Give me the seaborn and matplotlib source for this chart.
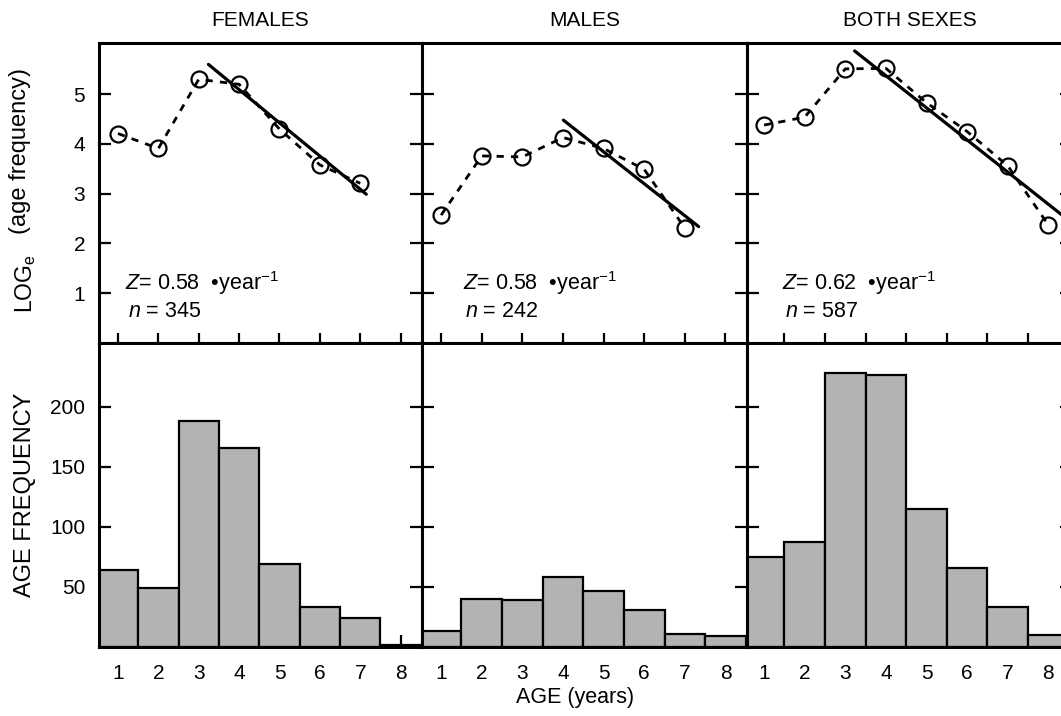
import matplotlib
matplotlib.use("Agg")
import matplotlib.pyplot as plt
import seaborn as sns

# ages (years) shared by all panels
ages = [1, 2, 3, 4, 5, 6, 7, 8]
panel_titles = ["FEMALES", "MALES", "BOTH SEXES"]

# age frequency histograms (bottom row)
female_counts = [64, 49, 188, 166, 69, 33, 24, 2]
male_counts = [13, 40, 39, 58, 47, 31, 11, 9]
both_counts = [75, 87, 228, 226, 115, 66, 33, 10]

# log_e(age frequency) points (top row)
female_log_ages = [1, 2, 3, 4, 5, 6, 7]
female_log = [4.21, 3.91, 5.30, 5.20, 4.30, 3.58, 3.21]
male_log_ages = [1, 2, 3, 4, 5, 6, 7]
male_log = [2.57, 3.76, 3.74, 4.13, 3.91, 3.49, 2.31]
both_log_ages = [1, 2, 3, 4, 5, 6, 7, 8]
both_log = [4.38, 4.54, 5.51, 5.52, 4.83, 4.25, 3.56, 2.37]

# catch-curve regression lines (end points)
female_fit_x = [3.24, 7.15]
female_fit_y = [5.60, 2.99]
male_fit_x = [4.01, 7.34]
male_fit_y = [4.48, 2.34]
both_fit_x = [3.23, 8.60]
both_fit_y = [5.87, 2.40]

# mortality estimate and sample size
z_values = [0.58, 0.58, 0.62]
n_values = [345, 242, 587]

W, H = 1061, 716


def px_axes(fig, left, top, width, height):
    # axes placed from pixel coordinates measured from the top-left corner
    return fig.add_axes([left / W, (H - top - height) / H, width / W, height / H])


def style_axes(ax, show_x_labels, show_y_labels):
    for sp in ax.spines.values():
        sp.set_visible(True)
        sp.set_linewidth(2.2)
        sp.set_color("black")
    ax.tick_params(axis="both", direction="in", width=1.6, colors="black",
                   labelcolor="black", labelsize=15, length=8.5)
    ax.tick_params(axis="y", left=True, right=True, pad=10,
                   labelleft=show_y_labels, labelright=False)
    ax.tick_params(axis="x", bottom=True, top=False, pad=12,
                   labelbottom=show_x_labels, labeltop=False, length=7.5)
    ax.set_xlabel("")
    ax.set_ylabel("")
    ax.set_facecolor("white")
    ax.grid(False)


def main():
    sns.set_theme(style="ticks")
    plt.rcParams.update({
        "font.family": ["Liberation Sans", "DejaVu Sans"],
        "mathtext.fontset": "custom",
        "mathtext.rm": "Liberation Sans",
        "mathtext.it": "Liberation Sans:italic",
        "mathtext.bf": "Liberation Sans:bold",
        "text.color": "black",
        "axes.labelcolor": "black",
        "axes.titlecolor": "black",
        "xtick.color": "black",
        "ytick.color": "black",
    })

    fig = plt.figure(figsize=(W / 100, H / 100), dpi=100)
    fig.patch.set_facecolor("white")

    lefts = [99, 422, 747]
    widths = [323, 325, 325]
    xlims = [(0.53, 8.53), (0.53, 8.53), (0.58, 8.58)]

    counts = [female_counts, male_counts, both_counts]
    log_x = [female_log_ages, male_log_ages, both_log_ages]
    log_y = [female_log, male_log, both_log]
    fit_x = [female_fit_x, male_fit_x, both_fit_x]
    fit_y = [female_fit_y, male_fit_y, both_fit_y]
    z_pos = [(0.08, 0.20, 0.09, 0.105), (0.126, 0.20, 0.132, 0.105),
             (0.107, 0.20, 0.117, 0.105)]

    for i in range(3):
        # top: log-frequency catch curve
        ax = px_axes(fig, lefts[i], 43, widths[i], 300)
        sns.lineplot(x=log_x[i], y=log_y[i], ax=ax, color="black", linewidth=2,
                     linestyle=(0, (2.6, 2.6)), marker="o", markersize=11.5,
                     markerfacecolor="none", markeredgecolor="black",
                     markeredgewidth=1.6)
        sns.lineplot(x=fit_x[i], y=fit_y[i], ax=ax, color="black", linewidth=2.3)
        ax.set_xlim(*xlims[i])
        ax.set_ylim(0, 6.03)
        if i == 2:
            ax.set_xticks([a + 0.5 for a in ages])
        else:
            ax.set_xticks(ages)
        ax.set_yticks([1, 2, 3, 4, 5])
        style_axes(ax, False, i == 0)
        ax.set_title(panel_titles[i], fontsize=15, pad=12, color="black")

        zx, zy, nx, ny = z_pos[i]
        ax.text(zx, zy, r"$Z$= %.2f  •year$^{-1}$" % z_values[i],
                transform=ax.transAxes, fontsize=15.5, va="center", ha="left",
                color="black")
        ax.text(nx, ny, r"$n$ = %d" % n_values[i],
                transform=ax.transAxes, fontsize=15.5, va="center", ha="left",
                color="black")

        # bottom: age frequency histogram
        axb = px_axes(fig, lefts[i], 343, widths[i], 304)
        sns.barplot(x=ages, y=counts[i], ax=axb, native_scale=True, orient="x",
                    width=1, color="#b3b3b3", saturation=1, edgecolor="black",
                    linewidth=1.6, errorbar=None)
        axb.set_xlim(*xlims[i])
        axb.set_ylim(0, 253)
        axb.set_xticks(ages)
        axb.set_xticklabels([str(a) for a in ages])
        axb.set_yticks([50, 100, 150, 200])
        style_axes(axb, True, i == 0)
        axb.tick_params(axis="x", length=8.5)

    # axis labels
    fig.text(26 / W, (H - 313) / H, r"LOG$_{\mathregular{e}}$", rotation=90,
             ha="center", va="bottom", fontsize=16.5, color="black")
    fig.text(20 / W, (H - 234) / H, "(age frequency)", rotation=90,
             ha="center", va="bottom", fontsize=17, color="black")
    fig.text(25 / W, (H - 495) / H, "AGE FREQUENCY", rotation=90,
             ha="center", va="center", fontsize=17, color="black")
    fig.text(575 / W, (H - 698) / H, "AGE (years)", ha="center", va="center",
             fontsize=15.5, color="black")

    fig.savefig("out.png", dpi=100, facecolor="white")
    plt.close(fig)


if __name__ == "__main__":
    main()
